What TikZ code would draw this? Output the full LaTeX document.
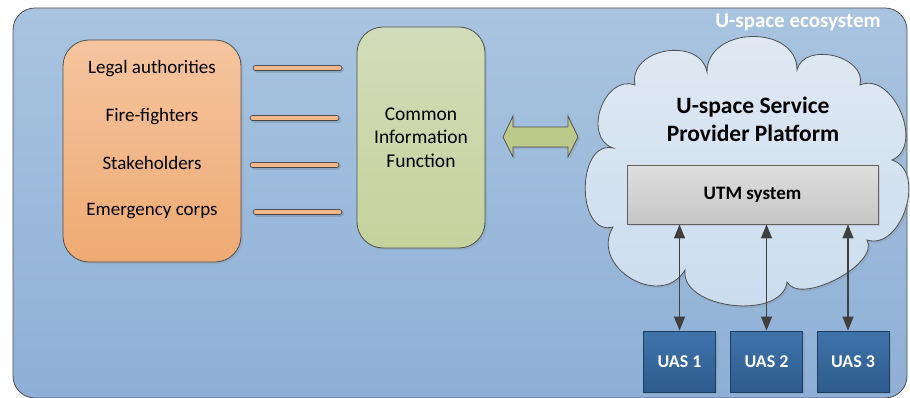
\documentclass[tikz,border=0pt]{standalone}
\usepackage{fontspec}
\setmainfont{Carlito}
\usetikzlibrary{arrows.meta,shadows,calc}
\definecolor{frametop}{HTML}{A9C4E0}
\definecolor{framebot}{HTML}{8EB0D6}
\definecolor{orgtop}{HTML}{F5C49F}
\definecolor{orgbot}{HTML}{EEAA72}
\definecolor{grntop}{HTML}{D3DCBA}
\definecolor{grnbot}{HTML}{C5D29C}
\definecolor{dblgreen}{HTML}{BBCA8B}
\definecolor{cloudtop}{HTML}{E0E9F3}
\definecolor{cloudbot}{HTML}{C9DCEE}
\definecolor{utmtop}{HTML}{DEDEDE}
\definecolor{utmbot}{HTML}{C6C6C6}
\definecolor{uastop}{HTML}{3F74AB}
\definecolor{uasbot}{HTML}{2E5B8D}
\definecolor{uasline}{HTML}{1F3D60}
\definecolor{edge}{HTML}{505050}
\definecolor{arrowgray}{HTML}{3F3F3F}
\definecolor{oarrowfill}{HTML}{F2B78A}
\begin{document}
\begin{tikzpicture}[x=1pt,y=-1pt,
  shd/.style={drop shadow={opacity=0.22,shadow xshift=2pt,shadow yshift=-2pt}},
  framebox/.style={draw=edge,line width=0.8pt,rounded corners=22pt,top color=frametop,bottom color=framebot},
  orgbox/.style={draw=edge,line width=0.8pt,rounded corners=26pt,top color=orgtop,bottom color=orgbot,shd,minimum width=178pt,minimum height=222pt,inner sep=0pt},
  cifbox/.style={draw=edge,line width=0.8pt,rounded corners=26pt,top color=grntop,bottom color=grnbot,shd,minimum width=128pt,minimum height=221pt,inner sep=0pt,align=center,font=\fontsize{19.5}{23.5}\selectfont},
  utmbox/.style={draw=edge!90,line width=0.8pt,top color=utmtop,bottom color=utmbot,shd,minimum width=251pt,minimum height=59pt,inner sep=0pt,font=\bfseries\fontsize{19}{22}\selectfont},
  uasbox/.style={draw=uasline,line width=0.8pt,top color=uastop,bottom color=uasbot,shd,minimum width=72pt,minimum height=61pt,inner sep=0pt,text=white,font=\bfseries\fontsize{18}{20}\selectfont},
  orgtext/.style={font=\fontsize{19}{22}\selectfont,inner sep=0pt},
  oarrow/.style={line width=4.8pt,draw=oarrowfill,line cap=round,
     preaction={draw=edge,line width=6.6pt,line cap=round},
     preaction={draw=black,opacity=0.12,line width=6.6pt,line cap=round,transform canvas={xshift=1.5pt,yshift=-1.5pt}}},
  varrow/.style={draw=arrowgray,line width=1.3pt,{Triangle[length=14pt,width=11pt]}-{Triangle[length=14pt,width=11pt]}}
]
\useasboundingbox (0,0) rectangle (910,398);

% outer frame
\draw[framebox] (13,8) rectangle (907,398);
\node[text=white,font=\bfseries\fontsize{21}{24}\selectfont,inner sep=0pt] (eco) at (798,22) {U-space ecosystem};

% orange box
\node[orgbox] (org) at (152,151) {};
\node[orgtext] (t1) at (152,69) {Legal authorities};
\node[orgtext] (t2) at (152,117) {Fire-fighters};
\node[orgtext] (t3) at (152,163) {Stakeholders};
\node[orgtext] (t4) at (152,211) {Emergency corps};

% common information function
\node[cifbox] (cif) at (421,137.5) {Common\\Information\\Function};

% orange arrows
\draw[oarrow] ([xshift=14.5pt]org.east |- 0,68) -- ([xshift=-17.5pt]cif.west |- 0,68);
\draw[oarrow] ([xshift=11.5pt]org.east |- 0,118) -- ([xshift=-20.5pt]cif.west |- 0,118);
\draw[oarrow] ([xshift=11.5pt]org.east |- 0,165) -- ([xshift=-20.5pt]cif.west |- 0,165);
\draw[oarrow] ([xshift=14.5pt]org.east |- 0,212) -- ([xshift=-17.5pt]cif.west |- 0,212);

% double arrow
\draw[draw=edge,line width=0.8pt,fill=dblgreen,shd]
  (503,137) -- (513,116) -- (513,127) -- (568,127) -- (568,116) -- (578,137)
  -- (568,157) -- (568,147) -- (513,147) -- (513,157) -- cycle;

% cloud
\draw[draw=edge,line width=0.8pt,top color=cloudtop,bottom color=cloudbot,shd]
  (613,227) .. controls (576,237) and (576,140) .. (613,148)
  .. controls (582,137) and (604,74) .. (635,85)
  .. controls (628,48) and (700,36) .. (707,72)
  .. controls (707,26) and (797,24) .. (797,70)
  .. controls (804,41) and (867,56) .. (860,85)
  .. controls (893,71) and (925,146) .. (892,160)
  .. controls (927,171) and (902,251) .. (867,240)
  .. controls (880,264) and (800,306) .. (787,282)
  .. controls (782,321) and (680,309) .. (685,270)
  .. controls (661,310) and (589,267) .. (613,227) -- cycle;
\node[align=center,font=\bfseries\fontsize{23.5}{28}\selectfont,inner sep=0pt] (usp) at (753,119) {U-space Service\\Provider Platform};

% UTM system
\node[utmbox] (utm) at (752.5,194.5) {UTM system};

% UAS boxes
\node[uasbox] (uas1) at (679.5,361.5) {UAS 1};
\node[uasbox] (uas2) at (766.5,361.5) {UAS 2};
\node[uasbox] (uas3) at (853,361.5) {UAS 3};

% vertical arrows
\draw[varrow] (uas1.north) -- (uas1.north |- utm.south);
\draw[varrow] (uas2.north) -- (uas2.north |- utm.south);
\draw[varrow] ([xshift=-5pt]uas3.north) -- ([xshift=-5pt]uas3.north |- utm.south);
\end{tikzpicture}
\end{document}
